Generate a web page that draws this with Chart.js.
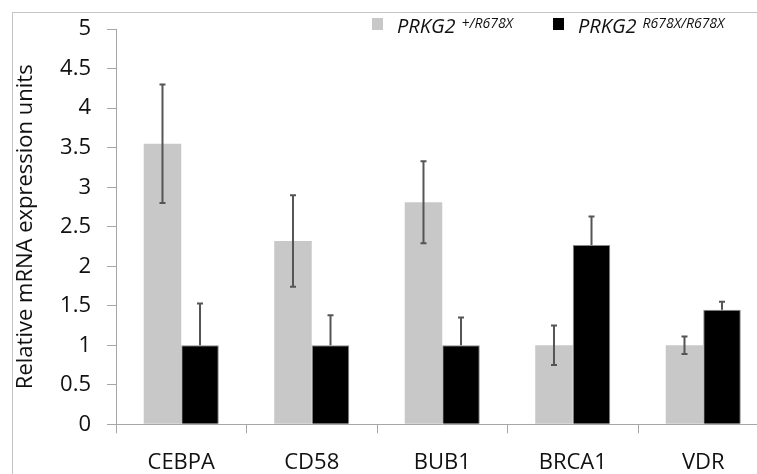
<!DOCTYPE html>
<html>
<head>
<meta charset="utf-8">
<script src="https://cdn.jsdelivr.net/npm/chart.js@4"></script>
<style>
  html, body { margin: 0; padding: 0; background: #fff; }
  #wrap { position: relative; width: 757px; height: 474px; overflow: hidden; }
  #frame { position: absolute; left: 12px; top: 12px; width: 800px; height: 500px;
           border-left: 1px solid #c4c4c4; border-top: 1px solid #c4c4c4; }
  #chart { position: absolute; left: 0; top: 0; }
</style>
</head>
<body>
<div id="wrap">
  <div id="frame"></div>
  <canvas id="chart" width="790" height="500"></canvas>
</div>
<script>
// ----- DATA -----
const genes = ["CEBPA", "CD58", "BUB1", "BRCA1", "VDR"];
const hetValues = [3.55, 2.32, 2.81, 1.0, 1.0];
const hetErrors = [0.75, 0.58, 0.52, 0.25, 0.11];
const homValues = [1.0, 1.0, 1.0, 2.27, 1.45];
const homErrors = [0.53, 0.38, 0.35, 0.36, 0.1];
const seriesNames = ["PRKG2", "PRKG2"];
const seriesSups = ["+/R678X", "R678X/R678X"];
const seriesColors = ["#c8c8c8", "#000000"];
const yTicks = [0, 0.5, 1, 1.5, 2, 2.5, 3, 3.5, 4, 4.5, 5];

const FONT = "'Open Sans', sans-serif";

// ----- ERROR BARS -----
// lower whisker of the black bars is hidden inside the bar in the original
const errorBars = {
    id: "errorBars",
    afterDatasetsDraw(chart) {
        const ctx = chart.ctx;
        const y = chart.scales.y;
        ctx.save();
        ctx.strokeStyle = "#555";
        ctx.lineWidth = 2;
        chart.data.datasets.forEach((ds, i) => {
            const meta = chart.getDatasetMeta(i);
            meta.data.forEach((bar, j) => {
                const v = ds.data[j], e = ds.errors[j];
                const top = y.getPixelForValue(v + e);
                const bot = ds.errorBelow ? y.getPixelForValue(v - e) : y.getPixelForValue(v);
                ctx.beginPath();
                ctx.moveTo(bar.x, top); ctx.lineTo(bar.x, bot);
                ctx.moveTo(bar.x - 3, top); ctx.lineTo(bar.x + 3, top);
                if (ds.errorBelow) { ctx.moveTo(bar.x - 3, bot); ctx.lineTo(bar.x + 3, bot); }
                ctx.stroke();
            });
        });
        ctx.restore();
    }
};

// ----- LEGEND (with superscripts) -----
const supLegend = {
    id: "supLegend",
    afterDraw(chart) {
        const ctx = chart.ctx;
        const starts = [372, 553];
        ctx.save();
        ctx.textBaseline = "alphabetic";
        chart.data.datasets.forEach((ds, i) => {
            let x = starts[i];
            ctx.fillStyle = ds.backgroundColor;
            ctx.fillRect(x, 18, 11, 12);
            x += 25;
            ctx.fillStyle = "#111";
            ctx.font = "italic 20px " + FONT;
            ctx.fillText(seriesNames[i], x, 33);
            x += ctx.measureText(seriesNames[i]).width + 6;
            ctx.font = "italic 14px " + FONT;
            ctx.fillText(seriesSups[i], x, 28);
        });
        ctx.restore();
    }
};

new Chart(document.getElementById("chart"), {
    type: "bar",
    data: {
        labels: genes,
        datasets: [
            { label: seriesNames[0] + " " + seriesSups[0], data: hetValues, errors: hetErrors,
              errorBelow: true, backgroundColor: seriesColors[0] },
            { label: seriesNames[1] + " " + seriesSups[1], data: homValues, errors: homErrors,
              errorBelow: false, backgroundColor: seriesColors[1], borderColor: "#888", borderWidth: 1 }
        ]
    },
    options: {
        responsive: false,
        animation: false,
        layout: { padding: { top: 20.7, right: 21.5, left: 0, bottom: 0 } },
        plugins: { legend: { display: false }, tooltip: { enabled: false } },
        datasets: { bar: { categoryPercentage: 0.575, barPercentage: 1 } },
        scales: {
            x: {
                grid: { drawOnChartArea: false, tickLength: 9, color: "#a6a6a6", offset: true },
                border: { color: "#a6a6a6" },
                ticks: { color: "#111", font: { family: FONT, size: 22 }, padding: 16 },
                afterFit(s) { s.height = 75.7; }
            },
            y: {
                min: 0, max: 5,
                afterBuildTicks(s) { s.ticks = yTicks.map(v => ({ value: v })); },
                grid: { drawOnChartArea: false, tickLength: 9, color: "#a6a6a6" },
                border: { color: "#a6a6a6" },
                ticks: { color: "#111", font: { family: FONT, size: 22 }, padding: 16,
                         callback: v => String(v) },
                title: { display: true, text: "Relative mRNA expression units", color: "#111",
                         font: { family: FONT, size: 22 }, padding: { top: 13, bottom: 0 } },
                afterFit(s) { s.width = 116; }
            }
        }
    },
    plugins: [errorBars, supLegend]
});
</script>
</body>
</html>
